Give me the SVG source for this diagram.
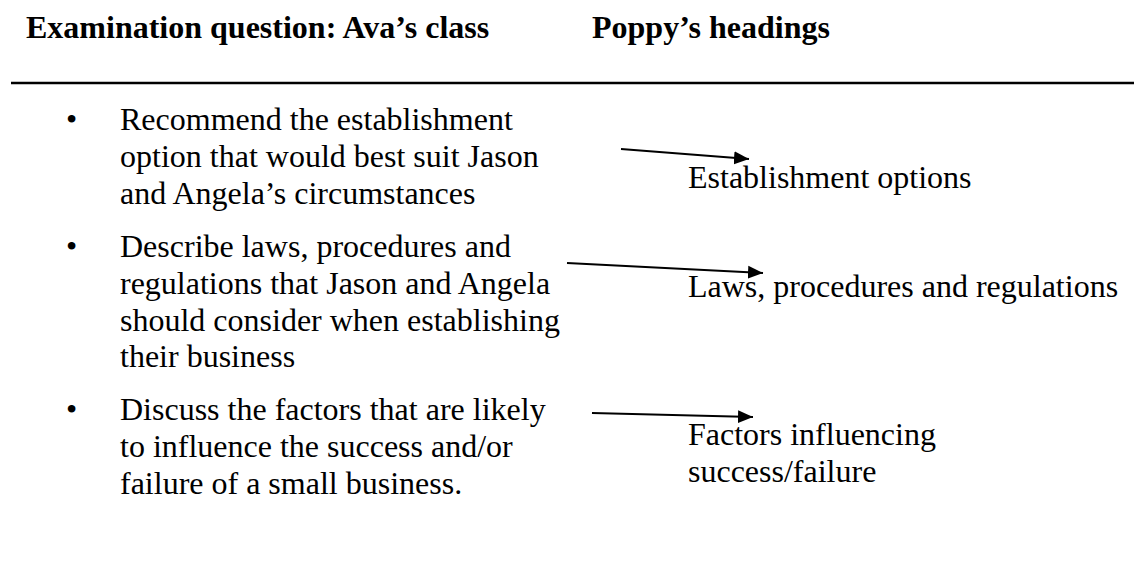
<svg xmlns="http://www.w3.org/2000/svg" width="1134" height="570" viewBox="0 0 1134 570">
<style>
text{font-family:"Liberation Serif","Times New Roman",serif;fill:#000}
.h{font-size:32px;font-weight:bold}
.b{font-size:32px}
.arr{stroke:#000;stroke-width:2.2;fill:none}
</style>
<defs>
<marker id="ah" markerUnits="userSpaceOnUse" markerWidth="16" markerHeight="14" refX="15" refY="6.5" orient="auto" viewBox="0 0 16 13">
<path d="M0,0 L15,6.5 L0,13 z" fill="#000"/>
</marker>
</defs>
<rect width="1134" height="570" fill="#fff"/>
<g id="header">
<text class="h" x="26" y="38">Examination question: Ava’s class</text>
<text class="h" x="592" y="38">Poppy’s headings</text>
<line x1="11" y1="83" x2="1134" y2="83" stroke="#000" stroke-width="2.5"/>
</g>
<g id="q1">
<text class="b" x="66" y="130">•</text>
<text class="b" x="120" y="130">Recommend the establishment</text>
<text class="b" x="120" y="166.8">option that would best suit Jason</text>
<text class="b" x="120" y="203.6">and Angela’s circumstances</text>
</g>
<g id="q2">
<text class="b" x="66" y="257">•</text>
<text class="b" x="120" y="257">Describe laws, procedures and</text>
<text class="b" x="120" y="293.8">regulations that Jason and Angela</text>
<text class="b" x="120" y="330.6">should consider when establishing</text>
<text class="b" x="120" y="367.4">their business</text>
</g>
<g id="q3">
<text class="b" x="66" y="420">•</text>
<text class="b" x="120" y="420">Discuss the factors that are likely</text>
<text class="b" x="120" y="456.8">to influence the success and/or</text>
<text class="b" x="120" y="493.6">failure of a small business.</text>
</g>
<g id="h1">
<text class="b" x="688" y="188">Establishment options</text>
</g>
<g id="h2">
<text class="b" x="688" y="297">Laws, procedures and regulations</text>
</g>
<g id="h3">
<text class="b" x="688" y="445">Factors influencing</text>
<text class="b" x="688" y="482">success/failure</text>
</g>
<g id="connectors">
<line class="arr" x1="621" y1="149" x2="749" y2="159" marker-end="url(#ah)"/>
<line class="arr" x1="567" y1="263" x2="763" y2="273" marker-end="url(#ah)"/>
<line class="arr" x1="592" y1="413" x2="753" y2="417" marker-end="url(#ah)"/>
</g>
</svg>
